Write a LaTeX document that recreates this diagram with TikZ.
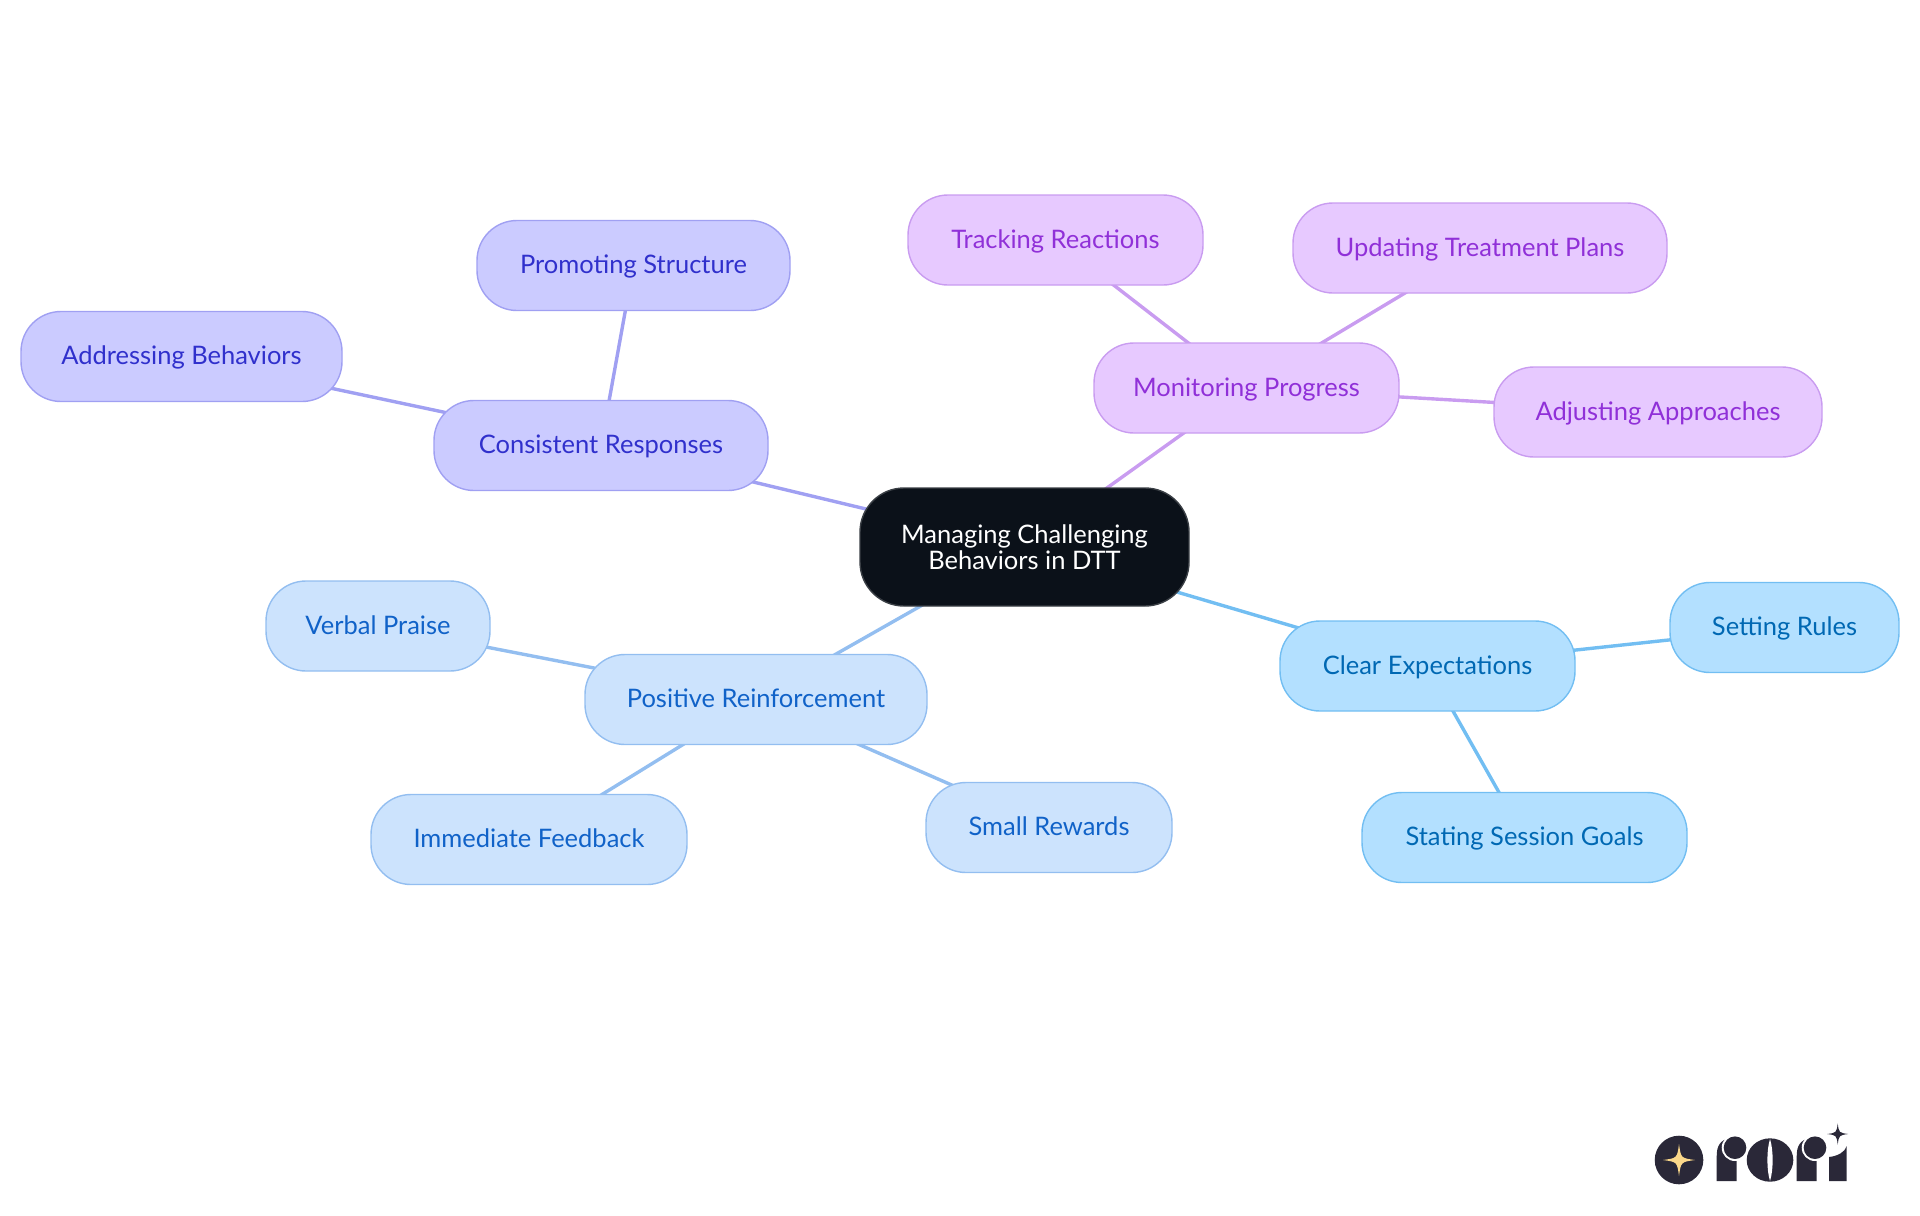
\documentclass[tikz,border=0pt]{standalone}
\usepackage{fontspec}
\usepackage{xcolor}
\usetikzlibrary{backgrounds}
\setmainfont{Lato}
\definecolor{rootfill}{HTML}{0B1119}
\definecolor{rootline}{HTML}{3A3F45}
\definecolor{skyfill}{HTML}{B3E0FF}
\definecolor{skyline}{HTML}{72BEF2}
\definecolor{skytext}{HTML}{0068B3}
\definecolor{bluefill}{HTML}{CCE3FD}
\definecolor{blueline}{HTML}{93BEF0}
\definecolor{bluetext}{HTML}{1062C8}
\definecolor{indigofill}{HTML}{CBCBFF}
\definecolor{indigoline}{HTML}{A0A0F2}
\definecolor{indigotext}{HTML}{3030CC}
\definecolor{purplefill}{HTML}{E7C9FF}
\definecolor{purpleline}{HTML}{C99CF0}
\definecolor{purpletext}{HTML}{9030D8}
\definecolor{logodark}{HTML}{2A2838}
\definecolor{logostar}{HTML}{FBD88A}
\newcommand{\sparkle}[4]{\begin{scope}[shift={(#1,#2)}]
        \fill[#4] (0,-#3) .. controls (0.12*#3,-0.12*#3) .. (#3,0) .. controls (0.12*#3,0.12*#3) .. (0,#3) .. controls (-0.12*#3,0.12*#3) .. (-#3,0) .. controls (-0.12*#3,-0.12*#3) .. cycle;
    \end{scope}}
\tikzset{
    topic/.style={draw, line width=0.7pt, rounded corners=20pt, align=center, inner sep=0pt, outer sep=0pt, minimum height=45pt, font=\fontsize{12.75}{12.8}\selectfont},
    leaf/.style={topic, text height=11pt, text depth=3pt},
    sky/.style={leaf, fill=skyfill, draw=skyline, text=skytext},
    blue/.style={leaf, fill=bluefill, draw=blueline, text=bluetext},
    indigo/.style={leaf, fill=indigofill, draw=indigoline, text=indigotext},
    purple/.style={leaf, fill=purplefill, draw=purpleline, text=purpletext},
    link/.style={line width=1.7pt}
}
\begin{document}
\begin{tikzpicture}[x=0.5pt,y=-0.5pt]
        \useasboundingbox (0,0) rectangle (1920,1215);
        \node[topic, fill=rootfill, draw=rootline, text=white, rounded corners=22pt, minimum width=164.5pt, minimum height=59pt] (root) at (1024.5,547) {Managing Challenging\\Behaviors in DTT};

        \node[purple, minimum width=152.5pt] (monitoring) at (1246.5,388) {Monitoring Progress};
        \node[purple, minimum width=147.5pt] (tracking) at (1055.5,240) {Tracking Reactions};
        \node[purple, minimum width=187pt] (updating) at (1480,248) {Updating Treatment Plans};
        \node[purple, minimum width=164pt] (adjusting) at (1658,412) {Adjusting Approaches};

        \node[indigo, minimum width=167pt] (consistent) at (601,445.5) {Consistent Responses};
        \node[indigo, minimum width=156.5pt] (promoting) at (633.5,265.5) {Promoting Structure};
        \node[indigo, minimum width=160.5pt] (addressing) at (181.5,356.5) {Addressing Behaviors};

        \node[blue, minimum width=171pt] (positive) at (756,699.5) {Positive Reinforcement};
        \node[blue, minimum width=112pt] (verbal) at (378,626) {Verbal Praise};
        \node[blue, minimum width=158pt] (immediate) at (529,839.5) {Immediate Feedback};
        \node[blue, minimum width=123pt] (small) at (1049,827.5) {Small Rewards};

        \node[sky, minimum width=147.5pt] (clear) at (1427.5,666) {Clear Expectations};
        \node[sky, minimum width=114.5pt] (setting) at (1784.5,627.5) {Setting Rules};
        \node[sky, minimum width=162.5pt] (stating) at (1524.5,837.5) {Stating Session Goals};

        \begin{scope}[on background layer]
            \draw[link, draw=purpleline] (root.center) -- (monitoring.center);
            \draw[link, draw=purpleline] (monitoring.center) -- (tracking.center);
            \draw[link, draw=purpleline] (monitoring.center) -- (updating.center);
            \draw[link, draw=purpleline] (monitoring.center) -- (adjusting.center);
            \draw[link, draw=indigoline] (root.center) -- (consistent.center);
            \draw[link, draw=indigoline] (consistent.center) -- (promoting.center);
            \draw[link, draw=indigoline] (consistent.center) -- (addressing.center);
            \draw[link, draw=blueline] (root.center) -- (positive.center);
            \draw[link, draw=blueline] (positive.center) -- (verbal.center);
            \draw[link, draw=blueline] (positive.center) -- (immediate.center);
            \draw[link, draw=blueline] (positive.center) -- (small.center);
            \draw[link, draw=skyline] (root.center) -- (clear.center);
            \draw[link, draw=skyline] (clear.center) -- (setting.center);
            \draw[link, draw=skyline] (clear.center) -- (stating.center);
        \end{scope}

        % logo
        \fill[logodark] (1679,1160) circle (24.3);
        \sparkle{1679}{1160}{16}{logostar}
        \foreach \dx in {0,80} {
            \fill[logodark] ({1716.7+\dx},1181) -- ({1716.7+\dx},1156) .. controls ({1716.7+\dx},1146) and ({1720+\dx},1140) .. ({1730+\dx},1138) -- ({1736.7+\dx},1138) -- ({1736.7+\dx},1181) -- cycle;
            \fill[white] ({1735+\dx},1147.7) circle (13.3);
            \fill[logodark] ({1735+\dx},1147.7) circle (11.3);
        }
        \fill[logodark] (1770,1160) ellipse (23.3 and 21.7);
        \fill[white] (1770,1139) .. controls (1766.5,1150) and (1766.5,1170) .. (1770,1181) .. controls (1773.5,1170) and (1773.5,1150) .. cycle;
        \fill[logodark] (1829,1181) -- (1829,1157) .. controls (1838,1156) and (1845,1152) .. (1846.7,1146) -- (1846.7,1181) -- cycle;
        \sparkle{1837.7}{1134}{10.5}{logodark}
    \end{tikzpicture}
\end{document}
